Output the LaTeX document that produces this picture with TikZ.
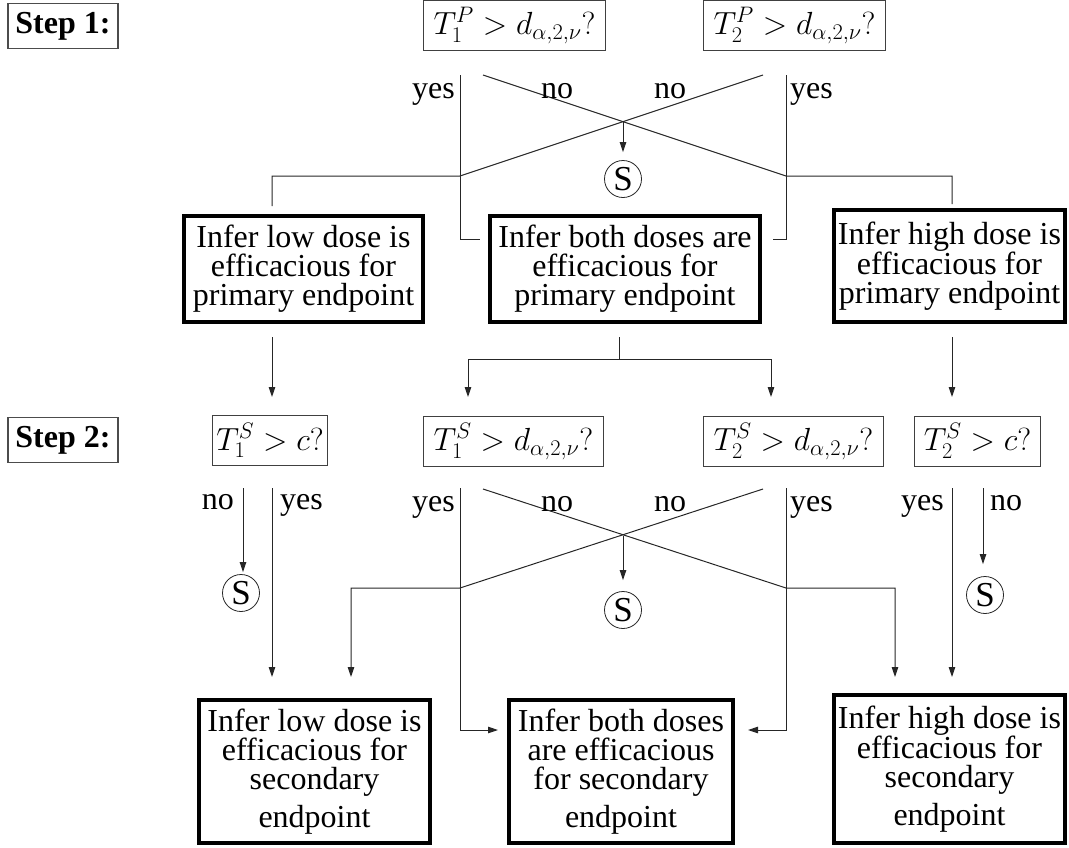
\RequirePackage{fix-cm}
\documentclass[tikz,border=0pt]{standalone}
\usepackage[no-math]{fontspec}
\setmainfont{Liberation Serif}
\usetikzlibrary{arrows.meta}
\newcommand{\bigfont}{\fontsize{32pt}{29pt}\selectfont}
\newcommand{\sfontS}{\fontsize{35pt}{35pt}\selectfont}
\begin{document}
\begin{tikzpicture}[x=1pt,y=-1pt,
  big/.style={draw, line width=4.3pt, align=center, inner sep=0pt, font=\bigfont},
  dec/.style={draw=black!75, line width=1pt, inner sep=0pt, minimum height=50pt, font=\bigfont},
  lab/.style={inner sep=0pt, font=\bigfont},
  stopc/.style={circle, draw=black!85, line width=0.8pt, inner sep=0pt, minimum size=37pt, font=\sfontS},
  conn/.style={line width=1pt, draw=black!85},
  arr/.style={conn, -{Triangle[length=10pt,width=6.5pt]}},
  steplab/.style={draw=black!70, line width=1.2pt, inner sep=0pt, minimum width=110pt, minimum height=45pt, font=\bigfont\bfseries}]
\useasboundingbox (0,0) rectangle (1069,847);

% step labels
\node[steplab] (s1) at (63,26) {Step 1:};
\node[steplab] (s2) at (63,440) {Step 2:};

% step 1 decisions
\node[dec, minimum width=182pt] (t1p) at (514.5,25.5) {$T_1^P > d_{\alpha,2,\nu}?$};
\node[dec, minimum width=182pt] (t2p) at (794.5,25.5) {$T_2^P > d_{\alpha,2,\nu}?$};

% primary conclusions
\node[big, minimum width=239pt, minimum height=106pt] (lowP) at (303.5,269) {Infer low dose is\\efficacious for\\primary endpoint};
\node[big, minimum width=270pt, minimum height=106pt] (bothP) at (625,269) {Infer both doses are\\efficacious for\\primary endpoint};
\node[big, minimum width=231pt, minimum height=112pt] (highP) at (949.5,266) {Infer high dose is\\efficacious for\\primary endpoint};

% step 2 decisions
\node[dec, minimum width=115pt] (t1c) at (270,440.5) {$T_1^S > c?$};
\node[dec, minimum width=180pt] (t1d) at (513.5,441.5) {$T_1^S > d_{\alpha,2,\nu}?$};
\node[dec, minimum width=180pt] (t2d) at (793.5,441.5) {$T_2^S > d_{\alpha,2,\nu}?$};
\node[dec, minimum width=126pt] (t2c) at (977.5,441) {$T_2^S > c?$};

% secondary conclusions
\node[big, minimum width=231pt, minimum height=143pt] (lowS) at (314.5,771.5) {Infer low dose is\\efficacious for\\secondary\\[8pt]endpoint};
\node[big, minimum width=224pt, minimum height=143pt] (bothS) at (621,771.5) {Infer both doses\\are efficacious\\for secondary\\[8pt]endpoint};
\node[big, minimum width=231pt, minimum height=148pt] (highS) at (949.5,769) {Infer high dose is\\efficacious for\\secondary\\[8pt]endpoint};

% stop circles
\node[stopc] (x1) at (623,179) {S};
\node[stopc] (x2) at (241,593) {S};
\node[stopc] (x3) at (623,610) {S};
\node[stopc] (x4) at (985,595) {S};

% ---------- step 1 connectors
\coordinate (ya) at (460,75); \coordinate (yb) at (480,239);
\coordinate (yc) at (786,75); \coordinate (yd) at (773,239);
\coordinate (na) at (483,75); \coordinate (nb) at (786,176);
\coordinate (nc) at (763,75); \coordinate (nd) at (460,176);
\coordinate (lowIn) at (272,206); \coordinate (highIn) at (952,204);
\coordinate (xa) at (623,121.7);
\draw[conn] (ya) |- (yb);
\draw[conn] (yc) |- (yd);
\draw[conn] (na) -- (nb) -| (highIn);
\draw[conn] (nc) -- (nd) -| (lowIn);
\draw[arr, shorten >=8pt] (xa) -- (x1.north);

\node[lab, anchor=base east] at (455,98) {yes};
\node[lab, anchor=base] at (557,98) {no};
\node[lab, anchor=base] at (670,98) {no};
\node[lab, anchor=base west] at (790,98) {yes};

% ---------- primary -> step 2
\coordinate (la) at (272,337); \coordinate (lb) at (272,397);
\draw[arr] (la) -- (lb);
\coordinate (ba) at (619,337); \coordinate (bb) at (619,359);
\coordinate (bl) at (468,397); \coordinate (br) at (771,397);
\draw[conn] (ba) -- (bb);
\draw[arr] (bb) -| (bl);
\draw[arr] (bb) -| (br);
\coordinate (ha) at (952,337); \coordinate (hb) at (952,397);
\draw[arr] (ha) -- (hb);

% ---------- step 2 left
\coordinate (p1) at (243,488); \coordinate (p2) at (272,488); \coordinate (p3) at (272,677);
\draw[arr, shorten >=2pt] (p1) -- (x2.north -| p1) ;
\draw[arr] (p2) -- (p3);
\node[lab, anchor=base east] at (234,509) {no};
\node[lab, anchor=base west] at (280,509) {yes};

% ---------- step 2 middle
\coordinate (ma) at (460,488); \coordinate (mb) at (498,730);
\coordinate (mc) at (786,488); \coordinate (md) at (748,730);
\coordinate (me) at (483,489); \coordinate (mf) at (786,588);
\coordinate (mg) at (763,489); \coordinate (mh) at (460,588);
\coordinate (mi) at (351,677); \coordinate (mj) at (895,677);
\coordinate (xb) at (623,535.7);
\draw[arr] (ma) |- (mb);
\draw[arr] (mc) |- (md);
\draw[arr] (me) -- (mf) -| (mj);
\draw[arr] (mg) -- (mh) -| (mi);
\draw[arr, shorten >=11pt] (xb) -- (x3.north);
\node[lab, anchor=base east] at (455,511) {yes};
\node[lab, anchor=base] at (557,511) {no};
\node[lab, anchor=base] at (670,511) {no};
\node[lab, anchor=base west] at (790,511) {yes};

% ---------- step 2 right
\coordinate (q1) at (952,488); \coordinate (q2) at (952,677);
\coordinate (q3) at (983,488);
\draw[arr] (q1) -- (q2);
\draw[arr, shorten >=12pt] (q3) -- (x4.north -| q3);
\node[lab, anchor=base east] at (944,510) {yes};
\node[lab, anchor=base west] at (990,510) {no};
\end{tikzpicture}
\end{document}
